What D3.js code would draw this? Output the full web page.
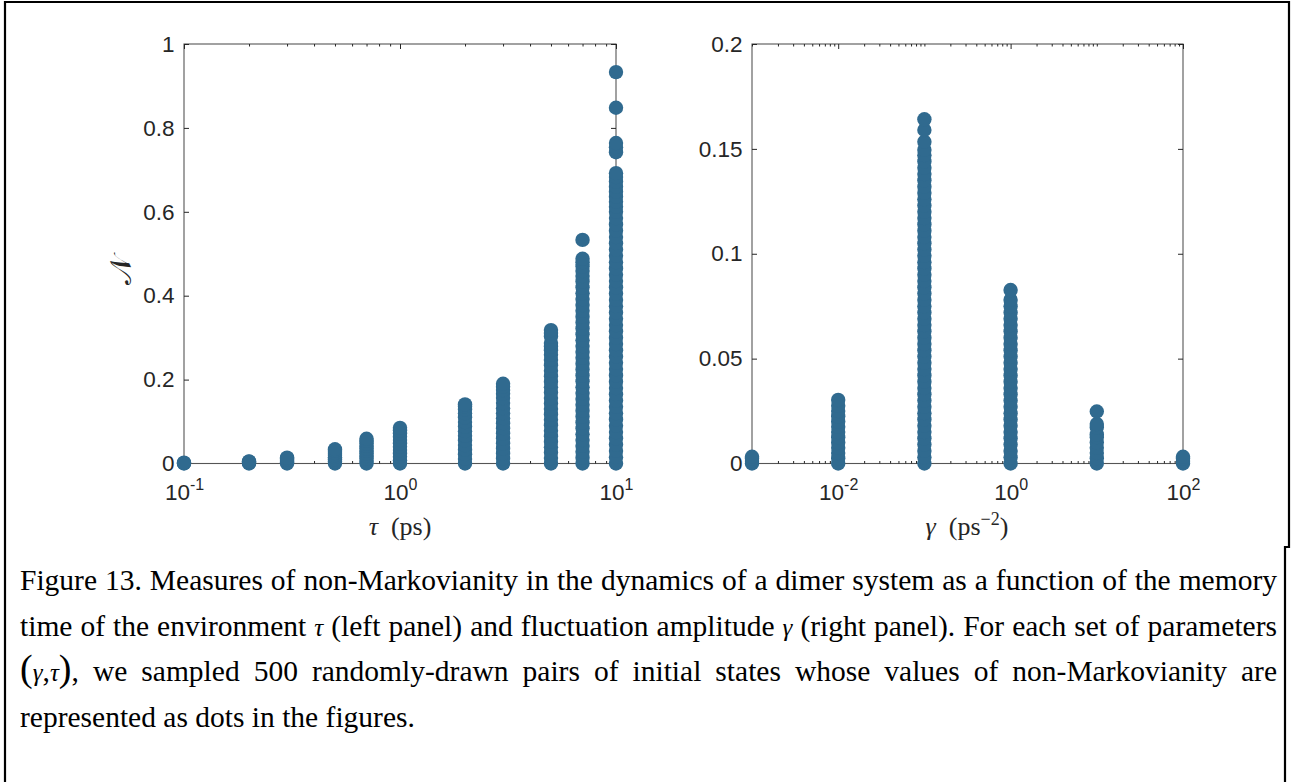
<!DOCTYPE html>
<html><head><meta charset="utf-8">
<script src="https://cdn.jsdelivr.net/npm/d3@7"></script>
<style>body{margin:0;background:#fff}svg{display:block}</style>
</head><body>
<svg id="fig" width="1295" height="782"></svg>
<script>
// ---------------- DATA ----------------
const tauCategories = [0.1, 0.2, 0.3, 0.5, 0.7, 1, 2, 3, 5, 7, 10];
const nmTau0_1 = [0, 0.001, 0.002];
const nmTau0_2 = [0, 0.002, 0.004, 0.005];
const nmTau0_3 = [0, 0.003, 0.006, 0.009, 0.012, 0.014];
const nmTau0_5 = [0, 0.005, 0.010, 0.015, 0.020, 0.025, 0.030, 0.034];
const nmTau0_7 = [0, 0.006, 0.012, 0.018, 0.024, 0.030, 0.036, 0.042, 0.048, 0.054, 0.059];
const nmTau1 = [0, 0.008, 0.016, 0.024, 0.032, 0.040, 0.048, 0.056, 0.064, 0.072, 0.079, 0.085];
const nmTau2 = [0, 0.011, 0.022, 0.033, 0.044, 0.055, 0.066, 0.077, 0.088, 0.099, 0.110, 0.120, 0.129, 0.136, 0.141];
const nmTau3 = [0, 0.012, 0.024, 0.036, 0.048, 0.060, 0.072, 0.084, 0.096, 0.108, 0.120, 0.132, 0.144, 0.156, 0.166, 0.175, 0.183, 0.190];
const nmTau5 = [0, 0.013, 0.026, 0.039, 0.052, 0.065, 0.078, 0.091, 0.104, 0.117, 0.130, 0.143, 0.156, 0.169, 0.182, 0.195, 0.208, 0.221, 0.234, 0.247, 0.259, 0.270, 0.279, 0.287, 0.303, 0.311, 0.318];
const nmTau7 = [0, 0.014, 0.028, 0.042, 0.056, 0.070, 0.084, 0.098, 0.112, 0.126, 0.140, 0.154, 0.168, 0.182, 0.196, 0.210, 0.224, 0.238, 0.252, 0.266, 0.280, 0.294, 0.308, 0.322, 0.336, 0.350, 0.364, 0.378, 0.392, 0.406, 0.420, 0.434, 0.447, 0.459, 0.470, 0.480, 0.488, 0.533];
const nmTau10 = [0, 0.015, 0.03, 0.045, 0.06, 0.075, 0.09, 0.105, 0.12, 0.135, 0.15, 0.165, 0.18, 0.195, 0.21, 0.225, 0.24, 0.255, 0.27, 0.285, 0.3, 0.315, 0.33, 0.345, 0.36, 0.375, 0.39, 0.405, 0.42, 0.435, 0.45, 0.465, 0.48, 0.495, 0.51, 0.525, 0.54, 0.555, 0.57, 0.585, 0.6, 0.612, 0.624, 0.636, 0.648, 0.66, 0.672, 0.683, 0.692, 0.742, 0.754, 0.764, 0.848, 0.933];
const nmByTau = [nmTau0_1, nmTau0_2, nmTau0_3, nmTau0_5, nmTau0_7, nmTau1, nmTau2, nmTau3, nmTau5, nmTau7, nmTau10];

const gammaCategories = [0.001, 0.01, 0.1, 1, 10, 100];
const nmG0_001 = [0, 0.0012, 0.0024, 0.0032];
const nmG0_01 = [0, 0.0025, 0.005, 0.0075, 0.010, 0.0125, 0.015, 0.0175, 0.020, 0.0225, 0.025, 0.0275, 0.0303];
const nmG0_1 = [0, 0.003, 0.006, 0.009, 0.012, 0.015, 0.018, 0.021, 0.024, 0.027, 0.030, 0.033, 0.036, 0.039, 0.042, 0.045, 0.048, 0.051, 0.054, 0.057, 0.060, 0.063, 0.066, 0.069, 0.072, 0.075, 0.078, 0.081, 0.084, 0.087, 0.090, 0.093, 0.096, 0.099, 0.102, 0.105, 0.108, 0.111, 0.114, 0.117, 0.120, 0.123, 0.126, 0.129, 0.132, 0.135, 0.138, 0.141, 0.144, 0.147, 0.1495, 0.1534, 0.159, 0.1641];
const nmG1 = [0, 0.003, 0.006, 0.009, 0.012, 0.015, 0.018, 0.021, 0.024, 0.027, 0.030, 0.033, 0.036, 0.039, 0.042, 0.045, 0.048, 0.051, 0.054, 0.057, 0.060, 0.063, 0.066, 0.069, 0.072, 0.075, 0.078, 0.0827];
const nmG10 = [0, 0.0025, 0.005, 0.0075, 0.010, 0.0125, 0.0139, 0.0172, 0.0188, 0.0248];
const nmG100 = [0, 0.0012, 0.0024, 0.0032];
const nmByGamma = [nmG0_001, nmG0_01, nmG0_1, nmG1, nmG10, nmG100];

const leftYTicks = [0, 0.2, 0.4, 0.6, 0.8, 1];
const leftYTickLabels = ["0", "0.2", "0.4", "0.6", "0.8", "1"];
const leftXTicks = [0.1, 1, 10];
const leftXTickExps = ["-1", "0", "1"];
const rightYTicks = [0, 0.05, 0.1, 0.15, 0.2];
const rightYTickLabels = ["0", "0.05", "0.1", "0.15", "0.2"];
const rightXTicks = [0.01, 1, 100];
const rightXTickExps = ["-2", "0", "2"];

const captionLines = [
  "Figure 13. Measures of non-Markovianity in the dynamics of a dimer system as a function of the memory",
  "time of the environment |τ| (left panel) and fluctuation amplitude |γ| (right panel). For each set of parameters",
  "[(]|γ|,|τ|[)], we sampled 500 randomly-drawn pairs of initial states whose values of non-Markovianity are",
  "represented as dots in the figures."
];

// ---------------- DRAWING ----------------
const svg = d3.select('#fig');
const axisColor = '#262626';
const dotColor = '#306a8f';
const tickFont = '"Liberation Sans", Arial, Helvetica, sans-serif';
const serif = '"Liberation Serif", "Times New Roman", serif';
const tickFontSize = 22.5;

// outer frame
svg.append('path')
  .attr('d', 'M5,782 L5,2 L1289,2 L1289,547 L1285,547 L1285,782')
  .attr('fill', 'none').attr('stroke', '#000').attr('stroke-width', 2.2);

function drawPanel(o) {
  const g = svg.append('g');
  const x = d3.scaleLog().domain(o.xDomain).range([o.x0, o.x1]);
  const y = d3.scaleLinear().domain(o.yDomain).range([o.y1, o.y0]);
  const isMajor = v => o.xTicks.some(t => Math.abs(Math.log10(t) - Math.log10(v)) < 1e-6);
  const minor = x.ticks().filter(v => !isMajor(v));

  g.append('rect').attr('x', o.x0).attr('y', o.y0)
    .attr('width', o.x1 - o.x0).attr('height', o.y1 - o.y0)
    .attr('fill', 'none').attr('stroke', '#555').attr('stroke-width', 1.1);

  const style = s => {
    s.select('.domain').remove();
    s.attr('color', axisColor).attr('font-family', tickFont).attr('font-size', tickFontSize);
    s.selectAll('.tick line').attr('stroke-width', 1);
  };
  g.append('g').attr('transform', `translate(0,${o.y1})`)
    .call(d3.axisBottom(x).tickValues(minor).tickSizeInner(-2.5).tickSizeOuter(0).tickFormat(() => '')).call(style);
  g.append('g').attr('transform', `translate(0,${o.y0})`)
    .call(d3.axisTop(x).tickValues(minor).tickSizeInner(-2.5).tickSizeOuter(0).tickFormat(() => '')).call(style);
  g.append('g').attr('transform', `translate(0,${o.y1})`)
    .call(d3.axisBottom(x).tickValues(o.xTicks).tickSizeInner(-5).tickSizeOuter(0).tickPadding(21).tickFormat(() => ''))
    .call(style)
    .call(s => s.selectAll('.tick text').each(function (d, i) {
      const t = d3.select(this).attr('fill', axisColor);
      t.append('tspan').text('10');
      t.append('tspan').attr('dy', -10).attr('font-size', 16).text(o.xExps[i]);
    }));
  g.append('g').attr('transform', `translate(0,${o.y0})`)
    .call(d3.axisTop(x).tickValues(o.xTicks).tickSizeInner(-5).tickSizeOuter(0).tickFormat(() => '')).call(style);
  g.append('g').attr('transform', `translate(${o.x0},0)`)
    .call(d3.axisLeft(y).tickValues(o.yTicks).tickSizeInner(-5).tickSizeOuter(0).tickPadding(9.5)
      .tickFormat((d, i) => o.yLabels[i]))
    .call(style).call(s => s.selectAll('.tick text').attr('fill', axisColor));
  g.append('g').attr('transform', `translate(${o.x1},0)`)
    .call(d3.axisRight(y).tickValues(o.yTicks).tickSizeInner(-5).tickSizeOuter(0).tickFormat(() => '')).call(style);

  const pts = [];
  o.cats.forEach((c, i) => o.vals[i].forEach(v => pts.push({ c, v })));
  g.append('g').selectAll('circle').data(pts).join('circle')
    .attr('cx', d => x(d.c)).attr('cy', d => y(d.v)).attr('r', 7.2).attr('fill', dotColor);
  return { x, y };
}

const Y0 = 44, Y1 = 463.5;
drawPanel({ x0: 184, x1: 616, y0: Y0, y1: Y1, xDomain: [0.1, 10], yDomain: [0, 1],
  xTicks: leftXTicks, xExps: leftXTickExps, yTicks: leftYTicks, yLabels: leftYTickLabels,
  cats: tauCategories, vals: nmByTau });
drawPanel({ x0: 752, x1: 1183, y0: Y0, y1: Y1, xDomain: [0.001, 100], yDomain: [0, 0.2],
  xTicks: rightXTicks, xExps: rightXTickExps, yTicks: rightYTicks, yLabels: rightYTickLabels,
  cats: gammaCategories, vals: nmByGamma });

// axis labels
const xl1 = svg.append('text').attr('x', 400).attr('y', 535).attr('text-anchor', 'middle')
  .attr('font-family', serif).attr('font-size', 26).attr('fill', axisColor);
xl1.append('tspan').attr('font-style', 'italic').text('τ');
xl1.append('tspan').text('\u2002(ps)');
const xl2 = svg.append('text').attr('x', 967).attr('y', 535).attr('text-anchor', 'middle')
  .attr('font-family', serif).attr('font-size', 26).attr('fill', axisColor);
xl2.append('tspan').attr('font-style', 'italic').text('γ');
xl2.append('tspan').text('\u2002(ps');
xl2.append('tspan').attr('font-size', 18).attr('dy', -10).text('−2');
xl2.append('tspan').attr('dy', 10).text(')');
svg.append('text').attr('transform', 'translate(131,270) rotate(-90)').attr('text-anchor', 'middle')
  .attr('font-family', '"DejaVu Serif", "DejaVu Sans", serif').attr('font-size', 30).attr('fill', axisColor)
  .text('𝒩');

// caption
const capBase = [590, 636, 681, 727];
captionLines.forEach((line, li) => {
  const t = svg.append('text').attr('x', 20).attr('y', capBase[li])
    .attr('font-family', serif).attr('font-size', 29.5).attr('fill', '#000');
  const parts = line.split(/(\|[^|]+\||\[[^\]]+\])/).filter(s => s.length);
  parts.forEach(p => {
    if (p.startsWith('|')) t.append('tspan').attr('font-style', 'italic').attr('font-size', 25).text(p.slice(1, -1));
    else if (p.startsWith('[')) t.append('tspan').attr('font-size', 38).text(p.slice(1, -1));
    else t.append('tspan').text(p);
  });
  if (li < 3) {
    const natural = t.node().getComputedTextLength();
    const spaces = (t.text().match(/ /g) || []).length;
    t.attr('word-spacing', (1257 - natural) / spaces);
  }
});
</script>
</body></html>
